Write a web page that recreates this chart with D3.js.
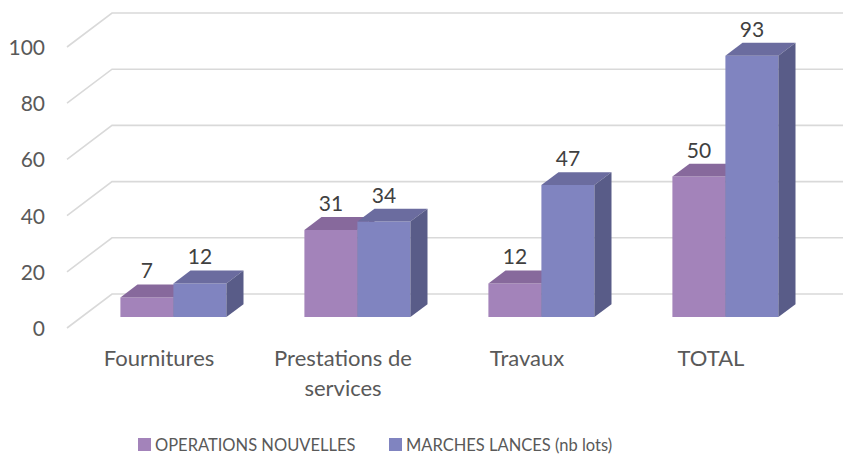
<!DOCTYPE html>
<html>
<head>
<meta charset="utf-8">
<script src="https://cdn.jsdelivr.net/npm/d3@7"></script>
<style>
  html, body { margin: 0; padding: 0; background: #fff; }
  svg { display: block; }
</style>
</head>
<body>
<script>
// data
const categories = ["Fournitures", "Prestations de\nservices", "Travaux", "TOTAL"];
const seriesNames = ["OPERATIONS NOUVELLES", "MARCHES LANCES (nb lots)"];
const operationsNouvelles = [7, 31, 12, 50];
const marchesLances = [12, 34, 47, 93];
const yTicks = [0, 20, 40, 60, 80, 100];

const W = 843, H = 455;
const font = "Lato, 'Liberation Sans', sans-serif";

// oblique 3D depth of the floor/wall, and where the bars sit in it
const depth = {dx: 45, dy: -34};
const barFront = 0.32, barDepth = 0.38;

const colors = [
  {front: "#a383ba", top: "#87699c", side: "#6f5683"},
  {front: "#8084c0", top: "#6b6c9f", side: "#595c88"}
];

const svg = d3.select("body").append("svg")
  .attr("width", W)
  .attr("height", H);

let x = d3.scaleBand()
  .domain(categories)
  .range([67, 803]);

let xs = d3.scaleBand()
  .domain(seriesNames)
  .range([-53, 53]);

let y = d3.scaleLinear()
  .domain([0, 100])
  .range([328, 47]);

// gridlines: side wall diagonal + back wall horizontal
svg.append("g")
  .selectAll("path")
  .data(yTicks)
  .enter()
  .append("path")
  .attr("d", d => {
    let x0 = x.range()[0], y0 = y(d);
    return `M${x0},${y0}L${x0 + depth.dx},${y0 + depth.dy}L${W},${y0 + depth.dy}`;
  })
  .attr("fill", "none")
  .attr("stroke", "#d9d9d9")
  .attr("stroke-width", 1.6);

// y axis labels
let yAxis = d3.axisLeft(y)
  .tickValues(yTicks)
  .tickSize(0)
  .tickPadding(0);
let yg = svg.append("g")
  .attr("transform", "translate(45,0)")
  .call(yAxis);
yg.select(".domain").remove();
yg.selectAll("text")
  .attr("font-family", font)
  .attr("font-size", "21px")
  .attr("fill", "#595959")
  .attr("dy", "0.36em");

// bars
const fx = barFront * depth.dx, fy = barFront * depth.dy;
const bx = barDepth * depth.dx, by = barDepth * depth.dy;
const seriesData = [operationsNouvelles, marchesLances];

seriesData.forEach((vals, s) => {
  let g = svg.append("g");
  vals.forEach((v, i) => {
    let cx = x(categories[i]) + x.bandwidth() / 2;
    let x0 = cx + xs(seriesNames[s]) + fx;
    let x1 = x0 + xs.bandwidth();
    let yb = y(0) + fy;
    let yt = y(v) + fy;
    g.append("path")
      .attr("d", `M${x0},${yb}L${x1},${yb}L${x1},${yt}L${x0},${yt}Z`)
      .attr("fill", colors[s].front);
    g.append("path")
      .attr("d", `M${x0},${yt}L${x1},${yt}L${x1 + bx},${yt + by}L${x0 + bx},${yt + by}Z`)
      .attr("fill", colors[s].top);
    g.append("path")
      .attr("d", `M${x1},${yb}L${x1 + bx},${yb + by}L${x1 + bx},${yt + by}L${x1},${yt}Z`)
      .attr("fill", colors[s].side);
  });
});

// data labels
seriesData.forEach((vals, s) => {
  svg.append("g")
    .selectAll("text")
    .data(vals)
    .enter()
    .append("text")
    .attr("x", (d, i) => x(categories[i]) + x.bandwidth() / 2 + xs(seriesNames[s]) + xs.bandwidth() / 2 + fx)
    .attr("y", d => y(d) + fy - 19)
    .attr("text-anchor", "middle")
    .attr("font-family", font)
    .attr("font-size", "21px")
    .attr("fill", "#404040")
    .text(d => d);
});

// category labels
let cat = svg.append("g")
  .selectAll("text")
  .data(categories)
  .enter()
  .append("text")
  .attr("x", d => x(d) + x.bandwidth() / 2)
  .attr("y", 366)
  .attr("text-anchor", "middle")
  .attr("font-family", font)
  .attr("font-size", "22px")
  .attr("fill", "#595959");
cat.each(function(d) {
  let lines = d.split("\n");
  let t = d3.select(this);
  lines.forEach((l, k) => {
    t.append("tspan")
      .attr("x", t.attr("x"))
      .attr("dy", k === 0 ? 0 : 30)
      .text(l);
  });
});

// legend
const legendX = [138, 389];
let leg = svg.append("g")
  .selectAll("g")
  .data(seriesNames)
  .enter()
  .append("g")
  .attr("transform", (d, i) => `translate(${legendX[i]},438)`);
leg.append("rect")
  .attr("width", 13)
  .attr("height", 13)
  .attr("fill", (d, i) => colors[i].front);
leg.append("text")
  .attr("x", 17)
  .attr("y", 13)
  .attr("font-family", font)
  .attr("font-size", "16.5px")
  .attr("fill", "#595959")
  .text(d => d);
</script>
</body>
</html>
